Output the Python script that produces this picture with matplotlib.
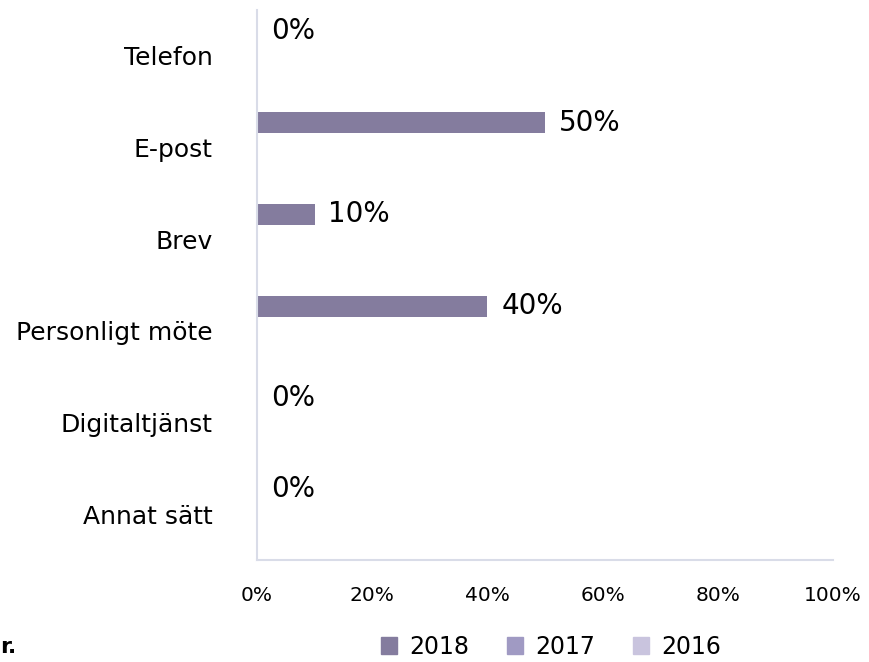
import numpy as np
import matplotlib.pyplot as plt
from matplotlib.patches import Patch
from matplotlib.ticker import PercentFormatter

# kategorier och andelar per år
kategorier = ['Telefon', 'E-post', 'Brev', 'Personligt möte', 'Digitaltjänst', 'Annat sätt']
ar = ['2018', '2017', '2016']
v2018 = [0, 50, 10, 40, 0, 0]
v2017 = [0, 0, 0, 0, 0, 0]
v2016 = [0, 0, 0, 0, 0, 0]
farger = ['#847C9E', '#A09AC3', '#C9C4DE']

fig = plt.figure(figsize=(8.69, 6.62), dpi=100)
ax = fig.add_axes([257/869, 102/662, 576/869, 550/662])

y = np.arange(len(kategorier))
offset = [-0.27, 0.0, 0.27]
serier = [v2018, v2017, v2016]
for i, (vals, f) in enumerate(zip(serier, farger)):
    bars = ax.barh(y + offset[i], vals, height=0.23, color=f, label=ar[i])
    if i == 0:
        ax.bar_label(bars, labels=[f'{v}%' for v in vals], padding=10, fontsize=20)

ax.set_xlim(0, 100)
ax.set_ylim(len(kategorier) - 0.5, -0.5)
ax.xaxis.set_major_formatter(PercentFormatter(decimals=0))
ax.set_xticks(np.arange(0, 101, 20))
ax.set_yticks(y)
ax.set_yticklabels(kategorier, fontsize=18)
ax.tick_params(axis='x', length=0, pad=19, labelsize=14.5)
ax.tick_params(axis='y', length=0, pad=32)

for s in ['top', 'right']:
    ax.spines[s].set_visible(False)
for s in ['left', 'bottom']:
    ax.spines[s].set_color('#D9DCE8')
    ax.spines[s].set_linewidth(1.5)

handles = [Patch(color=f) for f in farger]
fig.legend(handles, ar, loc='center', bbox_to_anchor=(0.634, 0.0227), ncol=3,
           frameon=False, fontsize=17, handlelength=0.7, handleheight=0.7,
           handletextpad=0.5, columnspacing=1.6)

fig.text(0.0, 0.0227, 'r.', fontsize=16, fontweight='bold', va='center', ha='left')

fig.savefig('out.png', dpi=100)
